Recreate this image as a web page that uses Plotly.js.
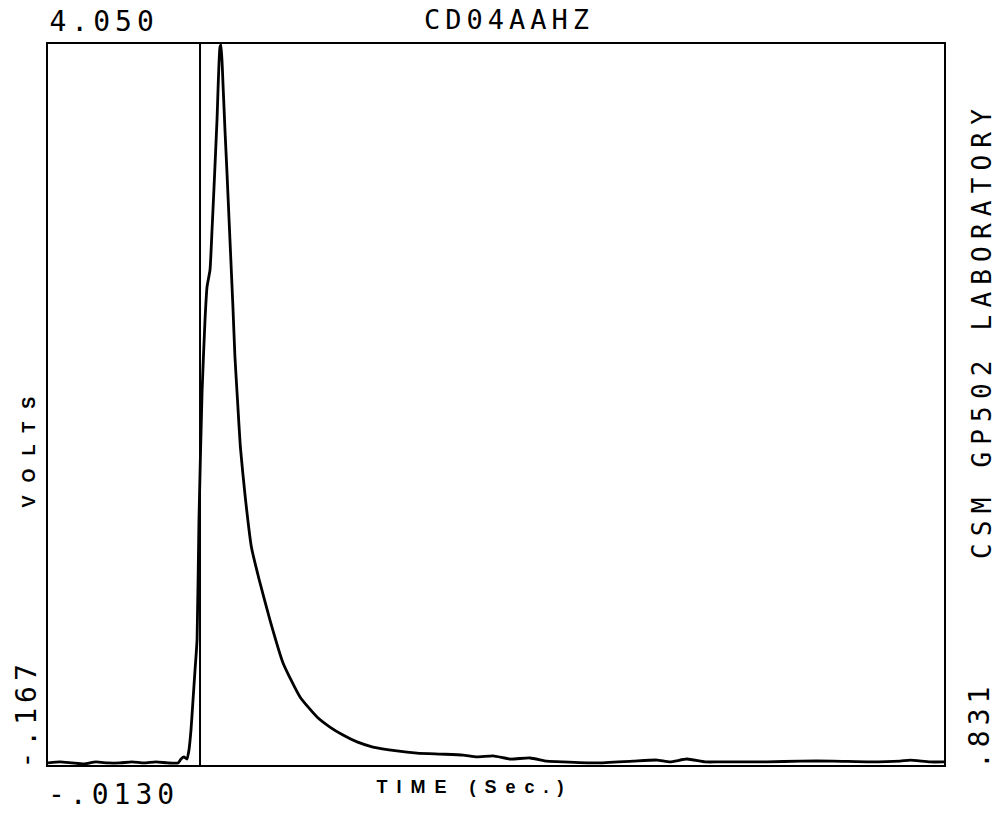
<!DOCTYPE html>
<html>
<head>
<meta charset="utf-8">
<script src="https://cdn.plot.ly/plotly-3.0.1.min.js"></script>
<style>
  html, body { margin: 0; padding: 0; background: #fff; }
  #chart { width: 997px; height: 814px; }
  .annotation text { letter-spacing: 5px; }
  .annotation[data-index="5"] text { letter-spacing: 7.2px; }
  .annotation[data-index="6"] text { letter-spacing: 9px; }
  .annotation[data-index="7"] text { letter-spacing: 13px; }
</style>
</head>
<body>
<div id="chart"></div>
<script>
// Time (s) and voltage samples
const timeSec = [
  -0.0130, -0.0017, 0.0096, 0.0209, 0.0322, 0.0435, 0.0548, 0.0661, 0.0774, 0.0887, 0.1000, 0.1095,
  0.1123, 0.1151, 0.1179, 0.1198, 0.1217, 0.1236, 0.1255, 0.1274, 0.1292, 0.1321, 0.1349, 0.1368,
  0.1396, 0.1415, 0.1434, 0.1462, 0.1490, 0.1500,
  0.1518, 0.1537, 0.1556, 0.1584, 0.1612, 0.1631, 0.1655, 0.1682, 0.1728, 0.1786, 0.1860, 0.1961,
  0.2084, 0.2244, 0.2404, 0.2526, 0.2649, 0.2781, 0.2931, 0.3157, 0.3346, 0.3562, 0.3779, 0.3911,
  0.4062, 0.4222, 0.4410, 0.4570, 0.4721, 0.5041, 0.5381, 0.5607, 0.5729, 0.5889, 0.6059, 0.6200,
  0.6643, 0.6954, 0.7264, 0.7613, 0.7896, 0.7990, 0.8178, 0.8310
];
const volts = [
  -0.155, -0.149, -0.155, -0.161, -0.149, -0.155, -0.155, -0.149, -0.155, -0.149, -0.155, -0.155,
  -0.132, -0.120, -0.132, -0.079, 0.038, 0.213, 0.389, 0.564, 1.266, 2.009, 2.436, 2.629,
  2.728, 2.962, 3.214, 3.606, 4.032, 4.044,
  3.822, 3.547, 3.296, 2.904, 2.512, 2.219, 1.968, 1.693, 1.400, 1.108, 0.915, 0.681,
  0.430, 0.231, 0.114, 0.055, 0.008, -0.032, -0.062, -0.085, -0.097, -0.103, -0.109, -0.120,
  -0.114, -0.132, -0.126, -0.144, -0.149, -0.155, -0.144, -0.138, -0.149, -0.132, -0.149, -0.149,
  -0.149, -0.144, -0.144, -0.149, -0.144, -0.138, -0.149, -0.149
];
// Vertical cursor line
const cursorTime = [0.1302, 0.1302];
const cursorVolts = [-0.167, 4.050];

const xRange = [-0.0130, 0.831];
const yRange = [-0.167, 4.050];
const xMinLabel = "-.0130";
const xMaxLabel = ".831";
const yMinLabel = "-.167";
const yMaxLabel = "4.050";
const chartTitle = "CD04AAHZ";
const sideLabel = "CSM GP502 LABORATORY";
const xTitle = "TIME (Sec.)";
const yTitle = "VOLTS";

const mono = "DejaVu Sans Mono";
const traces = [
  { x: timeSec, y: volts, mode: "lines", line: { color: "#000", width: 2.8, shape: "spline", smoothing: 0.5 }, hoverinfo: "skip" },
  { x: cursorTime, y: cursorVolts, mode: "lines", line: { color: "#000", width: 2 }, hoverinfo: "skip" }
];

const ann = (text, x, y, size, angle, fam, weight) => ({
  text, x, y, xref: "paper", yref: "paper", xanchor: "center", yanchor: "middle",
  showarrow: false, textangle: angle,
  font: { family: fam || mono, size, color: "#000", weight: weight || "normal" }
});

const W = 997, H = 814, L = 48, R = 53, T = 44, B = 49;
const pw = W - L - R, ph = H - T - B;
const px = v => (v - L) / pw;
const py = v => (H - B - v) / ph;

const layout = {
  width: W, height: H,
  margin: { l: L, r: R, t: T, b: B, pad: 0 },
  paper_bgcolor: "#fff", plot_bgcolor: "#fff",
  showlegend: false,
  xaxis: { range: xRange, showgrid: false, zeroline: false, showticklabels: false, ticks: "",
           showline: true, mirror: true, linecolor: "#000", linewidth: 2 },
  yaxis: { range: yRange, showgrid: false, zeroline: false, showticklabels: false, ticks: "",
           showline: true, mirror: true, linecolor: "#000", linewidth: 2 },
  annotations: [
    ann(yMaxLabel, px(104), py(21), 28, 0),
    ann(chartTitle, px(509), py(19), 27, 0),
    ann(xMinLabel, px(113), py(794), 28, 0),
    ann(yMinLabel, px(26), py(714), 28, -90),
    ann(xMaxLabel, px(979), py(726), 28, -90),
    ann(sideLabel, px(982), py(330), 26, -90),
    ann(xTitle, px(474), py(787), 18, 0, "Liberation Sans", "bold"),
    ann(yTitle, px(29), py(446), 18, -90, "Liberation Sans", "bold")
  ]
};

Plotly.newPlot("chart", traces, layout, { staticPlot: true, displayModeBar: false });
</script>
</body>
</html>
